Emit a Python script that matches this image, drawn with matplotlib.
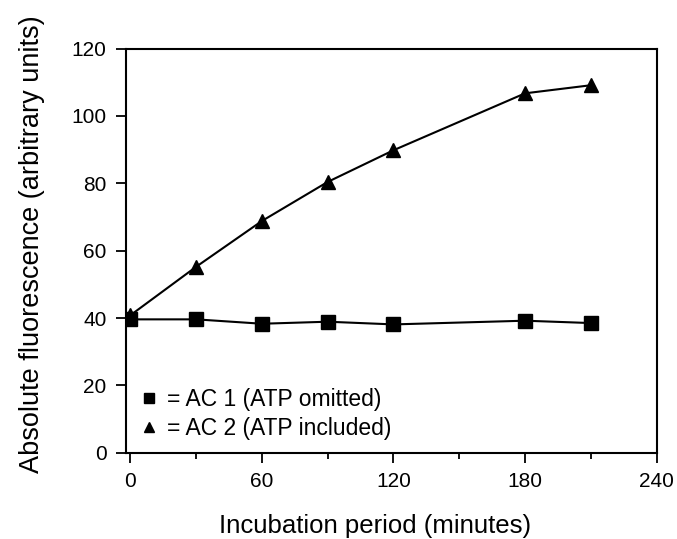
import matplotlib
matplotlib.use("Agg")
import matplotlib.pyplot as plt
from matplotlib.lines import Line2D

plt.rcParams["font.family"] = ["Liberation Sans", "DejaVu Sans"]

# incubation time (minutes)
minutes = [0, 30, 60, 90, 120, 180, 210]
# absolute fluorescence, arbitrary units
ac1_atp_omitted = [39.6, 39.6, 38.3, 38.9, 38.1, 39.2, 38.5]
ac2_atp_included = [40.8, 55.2, 68.8, 80.4, 89.8, 106.7, 109.1]

x_major = [0, 60, 120, 180, 240]
x_minor = [30, 90, 150, 210]
y_major = [0, 20, 40, 60, 80, 100, 120]

legend_labels = ["= AC 1 (ATP omitted)", "= AC 2 (ATP included)"]

fig = plt.figure(figsize=(6.77, 5.39), dpi=100)
ax = fig.add_axes([0.186, 0.160, 0.784, 0.750])

ax.plot(minutes, ac1_atp_omitted, color="black", lw=1.5,
        marker="s", ms=9.5, zorder=3)
ax.plot(minutes, ac2_atp_included, color="black", lw=1.5,
        marker="^", ms=9.5, zorder=3)

ax.set_xlim(-2, 240)
ax.set_ylim(0, 120)
ax.set_xticks(x_major)
ax.set_xticks(x_minor, minor=True)
ax.set_yticks(y_major)
ax.tick_params(axis="both", which="major", direction="out", length=7,
               width=1.3, labelsize=15, pad=7)
ax.tick_params(axis="x", which="minor", direction="out", length=4, width=1.3)
for s in ax.spines.values():
    s.set_linewidth(1.5)

ax.set_xlabel("Incubation period (minutes)", fontsize=18.5)
ax.set_ylabel("Absolute fluorescence (arbitrary units)", fontsize=19.5)
ax.xaxis.set_label_coords(0.469, -0.152)
ax.yaxis.set_label_coords(-0.152, 0.516)

handles = [
    Line2D([], [], color="black", marker="s", ms=7, ls="none"),
    Line2D([], [], color="black", marker="^", ms=7, ls="none"),
]
ax.legend(handles, legend_labels, loc="lower left", bbox_to_anchor=(0.0, -0.008),
          frameon=False, fontsize=16.5, handlelength=0.6, handletextpad=0.5,
          labelspacing=0.25, borderaxespad=0.3)

fig.savefig("out.png", dpi=100)
